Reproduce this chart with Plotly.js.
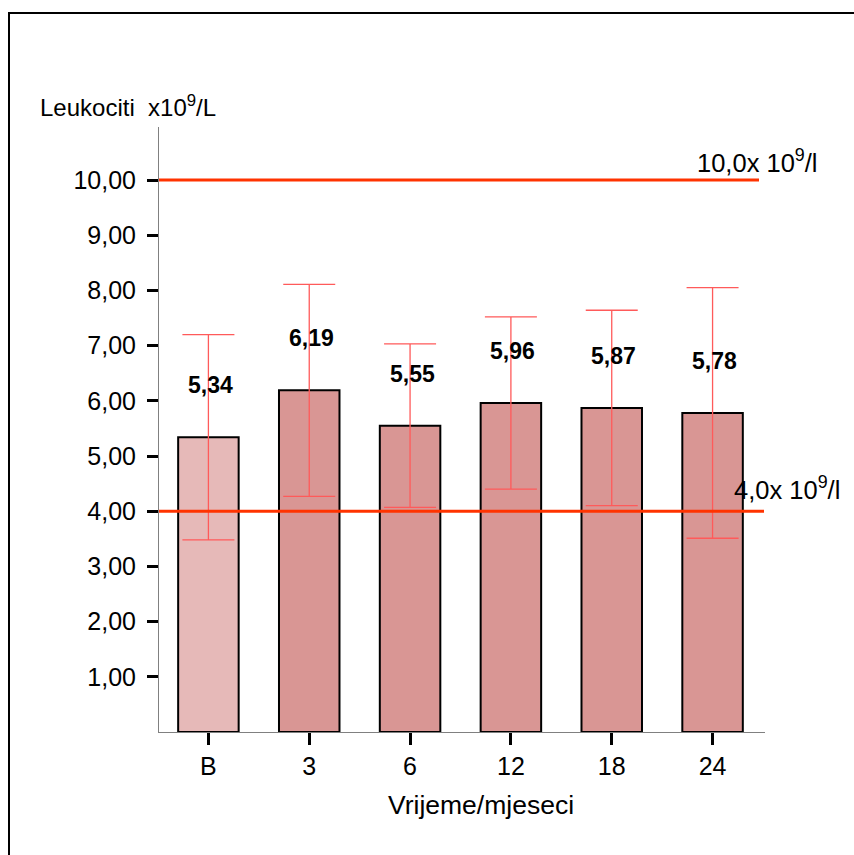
<!DOCTYPE html>
<html>
<head>
<meta charset="utf-8">
<script src="https://cdn.plot.ly/plotly-3.0.1.min.js"></script>
<style>
  html, body { margin: 0; padding: 0; background: #fff; }
  #chart { width: 854px; height: 855px; }
</style>
</head>
<body>
<div id="chart"></div>
<script>
// ---- data ----
const categories = ['B', '3', '6', '12', '18', '24'];
const means = [5.34, 6.19, 5.55, 5.96, 5.87, 5.78];
const sds = [1.86, 1.92, 1.48, 1.56, 1.77, 2.27];
const valueLabels = ['5,34', '6,19', '5,55', '5,96', '5,87', '5,78'];
const yTickVals = [1, 2, 3, 4, 5, 6, 7, 8, 9, 10];
const refValues = [10, 4];
const refLabels = ['10,0x 10<sup>9</sup>/l', '4,0x 10<sup>9</sup>/l'];

// ---- layout geometry helpers (pixels -> paper) ----
const L = 159, R = 765, T = 127, B = 732;
const px = x => (x - L) / (R - L);
const py = y => (B - y) / (B - T);
const FONT = 'Liberation Sans, Arial, sans-serif';

const barColors = categories.map((c, i) => i === 0 ? '#e6b9b8' : '#d99694');

const trace = {
  type: 'bar',
  x: categories,
  y: means,
  width: 0.6,
  marker: { color: barColors, line: { color: '#000', width: 2 } },
  error_y: { type: 'data', array: sds, visible: true, color: '#ff5a5a', thickness: 1.3, width: 26 },
  hoverinfo: 'none'
};

const annotations = [];
categories.forEach((c, i) => {
  annotations.push({
    x: i, y: means[i], xref: 'x', yref: 'y',
    text: '<b>' + valueLabels[i] + '</b>',
    showarrow: false, yshift: 52, xshift: 2,
    font: { family: FONT, size: 23, color: '#000' }
  });
});
annotations.push({
  xref: 'paper', yref: 'paper', x: px(38), y: py(106), xanchor: 'left', yanchor: 'middle',
  text: 'Leukociti  x10<sup>9</sup>/L', showarrow: false,
  font: { family: FONT, size: 24, color: '#000' }
});
annotations.push({
  xref: 'paper', yref: 'paper', x: px(481), y: py(805), xanchor: 'center', yanchor: 'middle',
  text: 'Vrijeme/mjeseci', showarrow: false,
  font: { family: FONT, size: 26.5, color: '#000' }
});
annotations.push({
  xref: 'paper', yref: 'y', x: px(695), y: refValues[0], xanchor: 'left', yanchor: 'bottom', yshift: 1,
  text: refLabels[0], showarrow: false,
  font: { family: FONT, size: 25.5, color: '#000' }
});
annotations.push({
  xref: 'paper', yref: 'y', x: px(732), y: refValues[1], xanchor: 'left', yanchor: 'bottom', yshift: 5,
  text: refLabels[1], showarrow: false,
  font: { family: FONT, size: 25.5, color: '#000' }
});

const shapes = [
  { type: 'line', xref: 'paper', yref: 'y', x0: 0, x1: px(759), y0: refValues[0], y1: refValues[0],
    line: { color: '#ff3300', width: 3 } },
  { type: 'line', xref: 'paper', yref: 'y', x0: 0, x1: px(764), y0: refValues[1], y1: refValues[1],
    line: { color: '#ff3300', width: 3 } },
  { type: 'rect', xref: 'paper', yref: 'paper', x0: px(9), x1: px(900), y0: py(13), y1: py(900),
    line: { color: '#000', width: 2 }, fillcolor: 'rgba(0,0,0,0)', layer: 'below' }
];

const layout = {
  width: 854, height: 855,
  margin: { l: L, r: 854 - R, t: T, b: 855 - B, pad: 0 },
  paper_bgcolor: '#fff', plot_bgcolor: '#fff',
  separators: ',.',
  showlegend: false,
  font: { family: FONT, color: '#000' },
  xaxis: {
    type: 'category', range: [-0.49, 5.52],
    showline: true, linecolor: '#808080', linewidth: 1,
    ticks: 'outside', ticklen: 12, tickwidth: 3, tickcolor: '#000',
    showgrid: false, zeroline: false,
    tickfont: { size: 25, color: '#000' }, ticklabelstandoff: 0
  },
  yaxis: {
    range: [0, (B - T) / ((B - 180) / 10)],
    showline: true, linecolor: '#808080', linewidth: 1,
    ticks: 'outside', ticklen: 11, tickwidth: 3, tickcolor: '#000',
    tickvals: yTickVals, tickformat: '.2f',
    showgrid: false, zeroline: false,
    tickfont: { size: 25, color: '#000' }, ticklabelstandoff: 6
  },
  annotations: annotations,
  shapes: shapes
};

Plotly.newPlot('chart', [trace], layout, { staticPlot: true, displayModeBar: false });
</script>
</body>
</html>
